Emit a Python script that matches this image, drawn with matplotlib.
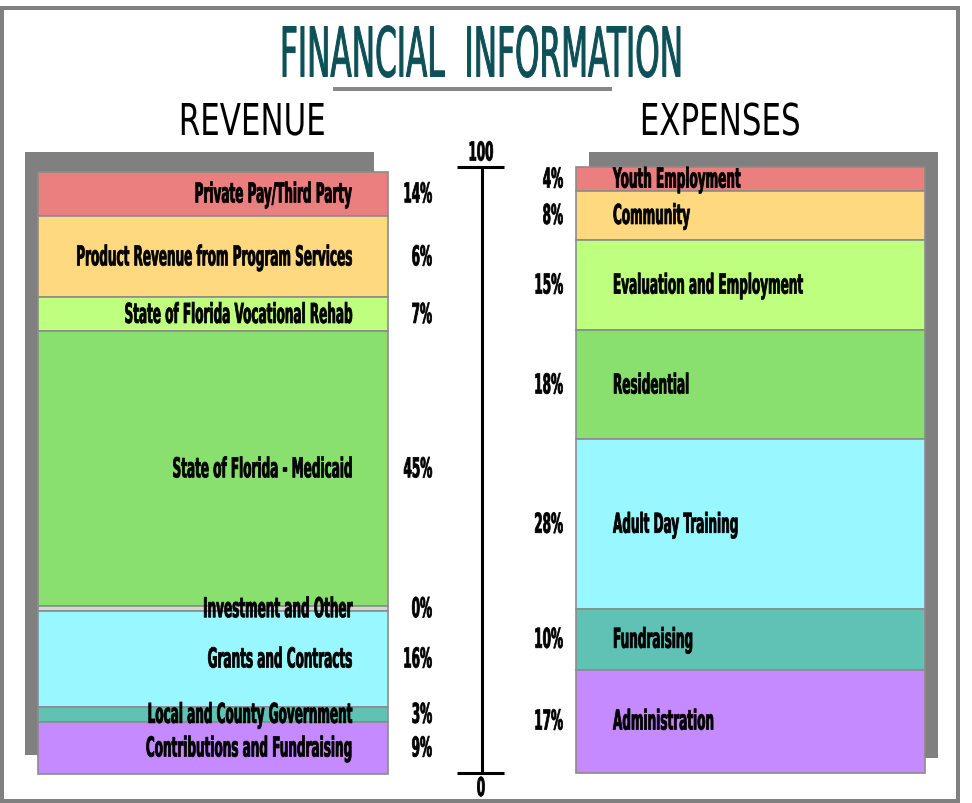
import matplotlib
matplotlib.use("Agg")
import matplotlib.pyplot as plt
from matplotlib.patches import Rectangle
from matplotlib.patheffects import AbstractPathEffect
from matplotlib.transforms import Affine2D
from matplotlib.font_manager import FontProperties, fontManager
from matplotlib.textpath import TextPath

# ---------------- data ----------------
rev_labels = ["Private Pay/Third Party", "Product Revenue from Program Services",
              "State of Florida Vocational Rehab", "State of Florida - Medicaid",
              "Investment and Other", "Grants and Contracts",
              "Local and County Government", "Contributions and Fundraising"]
rev_pct_text = ["14%", "6%", "7%", "45%", "0%", "16%", "3%", "9%"]
rev_values = [7.4, 13.4, 5.6, 45.4, 0.8, 15.8, 2.5, 8.6]   # segment heights as drawn

exp_labels = ["Youth Employment", "Community", "Evaluation and Employment",
              "Residential", "Adult Day Training", "Fundraising", "Administration"]
exp_pct_text = ["4%", "8%", "15%", "18%", "28%", "10%", "17%"]
exp_values = [4, 8, 15, 18, 28, 10, 17]

axis_ticks = [0, 100]
axis_tick_labels = ["0", "100"]

title = "FINANCIAL  INFORMATION"
col_titles = ["REVENUE", "EXPENSES"]

rev_colors = ["#EB7E7E", "#FFD97F", "#BFFF7F", "#8AE06E", "#D6D6D6",
              "#99F7FF", "#5FC2B4", "#C58AFF"]
exp_colors = ["#EB7E7E", "#FFD97F", "#BFFF7F", "#8AE06E", "#99F7FF",
              "#5FC2B4", "#C58AFF"]

# ---------------- fonts ----------------
names = {f.name for f in fontManager.ttflist}
COND = "DejaVu Sans"
for cand in ["Liberation Sans Narrow", "DejaVu Sans"]:
    if cand in names:
        COND = cand
        break
DPI = 100


class Stretch(AbstractPathEffect):
    """Stretch glyphs vertically about the baseline (emulates a condensed face)."""
    def __init__(self, sy, lw=0.0):
        super().__init__()
        self.sy = sy
        self.lw = lw

    def draw_path(self, renderer, gc, tpath, affine, rgbFace=None):
        x0, y0 = affine.transform([[0.0, 0.0]])[0]
        t = affine + Affine2D().translate(-x0, -y0).scale(1.0, self.sy).translate(x0, y0)
        if self.lw > 0:
            gc.set_linewidth(self.lw)
            gc.set_joinstyle("round")
        renderer.draw_path(gc, tpath, t, rgbFace)


def ink(s, fp):
    e = TextPath((0, 0), s, prop=fp).get_extents()
    return e.width * DPI / 72, e.height * DPI / 72


def make_style(family, weight, ref, target_w, target_cap, lw=0.0):
    fp = FontProperties(family=family, weight=weight, size=10)
    w, _ = ink(ref, fp)
    size = 10 * target_w / w
    fp2 = FontProperties(family=family, weight=weight, size=size)
    cap = ink("H", fp2)[1]
    return dict(size=size, sy=target_cap / cap, family=family, weight=weight,
                cap=target_cap, lw=lw)


lab_st = make_style(COND, "bold", "Private Pay/Third Party", 156, 20, lw=0.55)
num_st = make_style(COND, "bold", "100", 23, 19, lw=0.55)
tit_st = make_style(COND, "normal", title, 397, 50, lw=0.7)
col_st = make_style(COND, "normal", "REVENUE", 142, 32)

# ---------------- figure ----------------
fig = plt.figure(figsize=(9.72, 8.04), dpi=DPI)
ax = fig.add_axes([0, 0, 1, 1])
PX0, PXU = 773.5, 6.055          # pixel row of value 0, pixels per unit


def Y(py):
    return (PX0 - py) / PXU


ax.set_xlim(0, 972)
ax.set_ylim(Y(804), Y(0))
ax.axis("off")


def put(x, cy, s, st, ha, color="black"):
    base = cy + st["cap"] / 2.0
    ax.text(x, Y(base), s, ha=ha, va="baseline", fontsize=st["size"],
            family=st["family"], weight=st["weight"], color=color,
            path_effects=[Stretch(st["sy"], st["lw"])], zorder=10)


# frame
ax.add_patch(Rectangle((2, Y(802)), 956, Y(9) - Y(802), fill=False,
                       edgecolor="#808080", lw=4 * 72 / DPI, clip_on=False, zorder=0))

# title + underline
put(480.5, 52.5, title, tit_st, "center", color="#0D5057")
ax.plot([333, 612], [Y(89.5), Y(89.5)], color="#878787", lw=4 * 72 / DPI,
        solid_capstyle="butt")
put(252, 120, col_titles[0], col_st, "center")
put(720, 120, col_titles[1], col_st, "center")

EDGE = "#8C8C8C"
ELW = 1.2

# ---- revenue stacked bar ----
rev_x, rev_w, rev_bottom = 38, 350, -0.25
rev_total = sum(rev_values)
ax.bar(rev_x - 13, rev_total, width=rev_w - 1, bottom=rev_bottom + 3.15, align="edge",
       color="#808080", lw=0, zorder=1)
b = rev_bottom + rev_total
for lab, pct, v, c in zip(rev_labels, rev_pct_text, rev_values, rev_colors):
    b -= v
    ax.bar(rev_x, v, width=rev_w, bottom=b, align="edge", color=c,
           edgecolor=EDGE, lw=ELW, zorder=2)
    cy = PX0 - (b + v / 2) * PXU - 1.5
    put(352, cy, lab, lab_st, "right")
    put(432, cy, pct, lab_st, "right")

# ---- expenses stacked bar ----
exp_x, exp_w = 576, 349
exp_total = sum(exp_values)
ax.bar(exp_x + 13, exp_total, width=exp_w, bottom=2.4, align="edge",
       color="#808080", lw=0, zorder=1)
b = exp_total
for lab, pct, v, c in zip(exp_labels, exp_pct_text, exp_values, exp_colors):
    b -= v
    ax.bar(exp_x, v, width=exp_w, bottom=b, align="edge", color=c,
           edgecolor=EDGE, lw=ELW, zorder=2)
    cy = PX0 - (b + v / 2) * PXU - 1.5
    put(613, cy, lab, lab_st, "left")
    put(563, cy, pct, lab_st, "right")

# ---- central scale ----
ax.plot([482, 482], [axis_ticks[0], axis_ticks[-1]], color="black", lw=2.2,
        solid_capstyle="butt", zorder=3)
for t, tl in zip(axis_ticks, axis_tick_labels):
    ax.plot([457, 504], [t, t], color="black", lw=2.2, solid_capstyle="butt", zorder=3)
    py = PX0 - t * PXU
    cy = py - 16 if t == axis_ticks[-1] else py + 14
    put(481, cy, tl, num_st, "center")

fig.savefig("out.png", dpi=DPI)
